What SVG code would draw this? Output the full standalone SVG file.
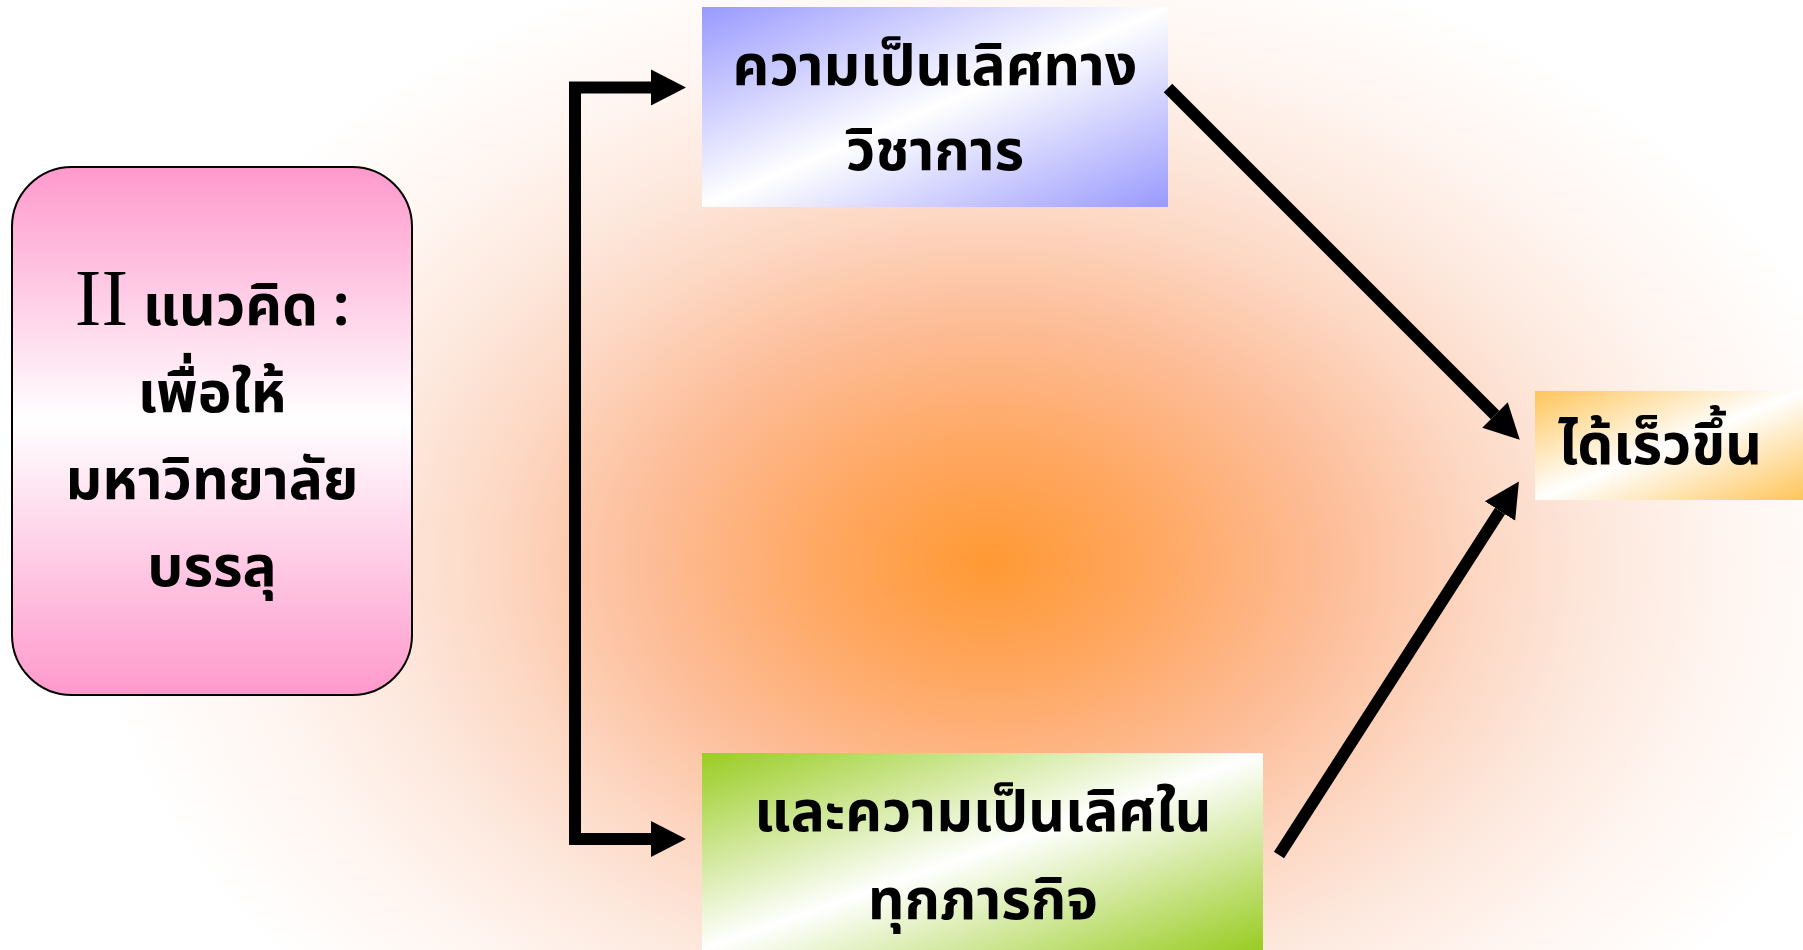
<svg xmlns="http://www.w3.org/2000/svg" width="1803" height="950" viewBox="0 0 1803 950">
  <defs>
    <radialGradient id="bg" gradientUnits="userSpaceOnUse" cx="0" cy="0" r="1" gradientTransform="translate(989 563) scale(900 640)">
      <stop offset="0" stop-color="#ff9933"/>
      <stop offset="0.2" stop-color="#ffa966"/>
      <stop offset="0.38" stop-color="#fdbd98"/>
      <stop offset="0.55" stop-color="#fdd8c4"/>
      <stop offset="0.68" stop-color="#fde8dd"/>
      <stop offset="0.82" stop-color="#fff5f0"/>
      <stop offset="1" stop-color="#ffffff"/>
    </radialGradient>
    <linearGradient id="gPink" x1="0" y1="0" x2="0" y2="1">
      <stop offset="0" stop-color="#ff99cc"/>
      <stop offset="0.48" stop-color="#ffffff"/>
      <stop offset="1" stop-color="#ff99cc"/>
    </linearGradient>
    <linearGradient id="gBlue" x1="0" y1="0" x2="1" y2="1">
      <stop offset="0" stop-color="#9999ff"/>
      <stop offset="0.5" stop-color="#ffffff"/>
      <stop offset="1" stop-color="#9999ff"/>
    </linearGradient>
    <linearGradient id="gGreen" x1="0" y1="0" x2="1" y2="1">
      <stop offset="0" stop-color="#99cc22"/>
      <stop offset="0.5" stop-color="#ffffff"/>
      <stop offset="1" stop-color="#99cc22"/>
    </linearGradient>
    <linearGradient id="gOrange" x1="0" y1="0" x2="1" y2="1">
      <stop offset="0" stop-color="#ffc55a"/>
      <stop offset="0.5" stop-color="#ffffff"/>
      <stop offset="1" stop-color="#ffc55a"/>
    </linearGradient>
    <marker id="head" markerUnits="userSpaceOnUse" markerWidth="36" markerHeight="38" refX="0" refY="19" orient="auto-start-reverse" viewBox="0 0 36 38">
      <path d="M0 1 L35 19 L0 37 Z" fill="#000"/>
    </marker>
  </defs>
  <style>
    .lbl { font-family: "Noto Sans Thai", "Noto Serif Thai", "Tahoma", "Liberation Sans", sans-serif; font-weight: bold; font-size: 57px; fill: #000; text-anchor: middle; }
    .roman { font-family: "Liberation Serif", serif; font-weight: normal; }
    .conn { fill: none; stroke: #000; stroke-width: 12; stroke-linejoin: miter; }
  </style>

  <rect id="background" x="0" y="0" width="1803" height="950" fill="url(#bg)"/>

  <g id="node-concept">
    <rect x="12" y="167" width="400" height="528" rx="60" ry="60" fill="url(#gPink)" stroke="#000" stroke-width="2"/>
    <text class="lbl" x="212" y="325" font-size="58"><tspan class="roman" font-size="80">II</tspan> แนวคิด :</text>
    <text class="lbl" x="212" y="412" font-size="58">เพื่อให้</text>
    <text class="lbl" x="212" y="499" font-size="58">มหาวิทยาลัย</text>
    <text class="lbl" x="212" y="586" font-size="58">บรรลุ</text>
  </g>

  <g id="node-academic">
    <rect x="702" y="7" width="466" height="200" fill="url(#gBlue)"/>
    <text class="lbl" x="935" y="85">ความเป็นเลิศทาง</text>
    <text class="lbl" x="935" y="170">วิชาการ</text>
  </g>

  <g id="node-mission">
    <rect x="702" y="753" width="561" height="197" fill="url(#gGreen)"/>
    <text class="lbl" x="983" y="831">และความเป็นเลิศใน</text>
    <text class="lbl" x="983" y="919">ทุกภารกิจ</text>
  </g>

  <g id="node-faster">
    <rect x="1535" y="391" width="268" height="109" fill="url(#gOrange)"/>
    <text class="lbl" x="1660" y="464">ได้เร็วขึ้น</text>
  </g>

  <g id="connectors">
    <path class="conn" d="M651 87.5 H575 V839 H651" marker-start="url(#head)" marker-end="url(#head)"/>
    <path class="conn" d="M1168 88 L1495 415" marker-end="url(#head)"/>
    <path class="conn" d="M1279 855 L1500 511" marker-end="url(#head)"/>
  </g>
</svg>
